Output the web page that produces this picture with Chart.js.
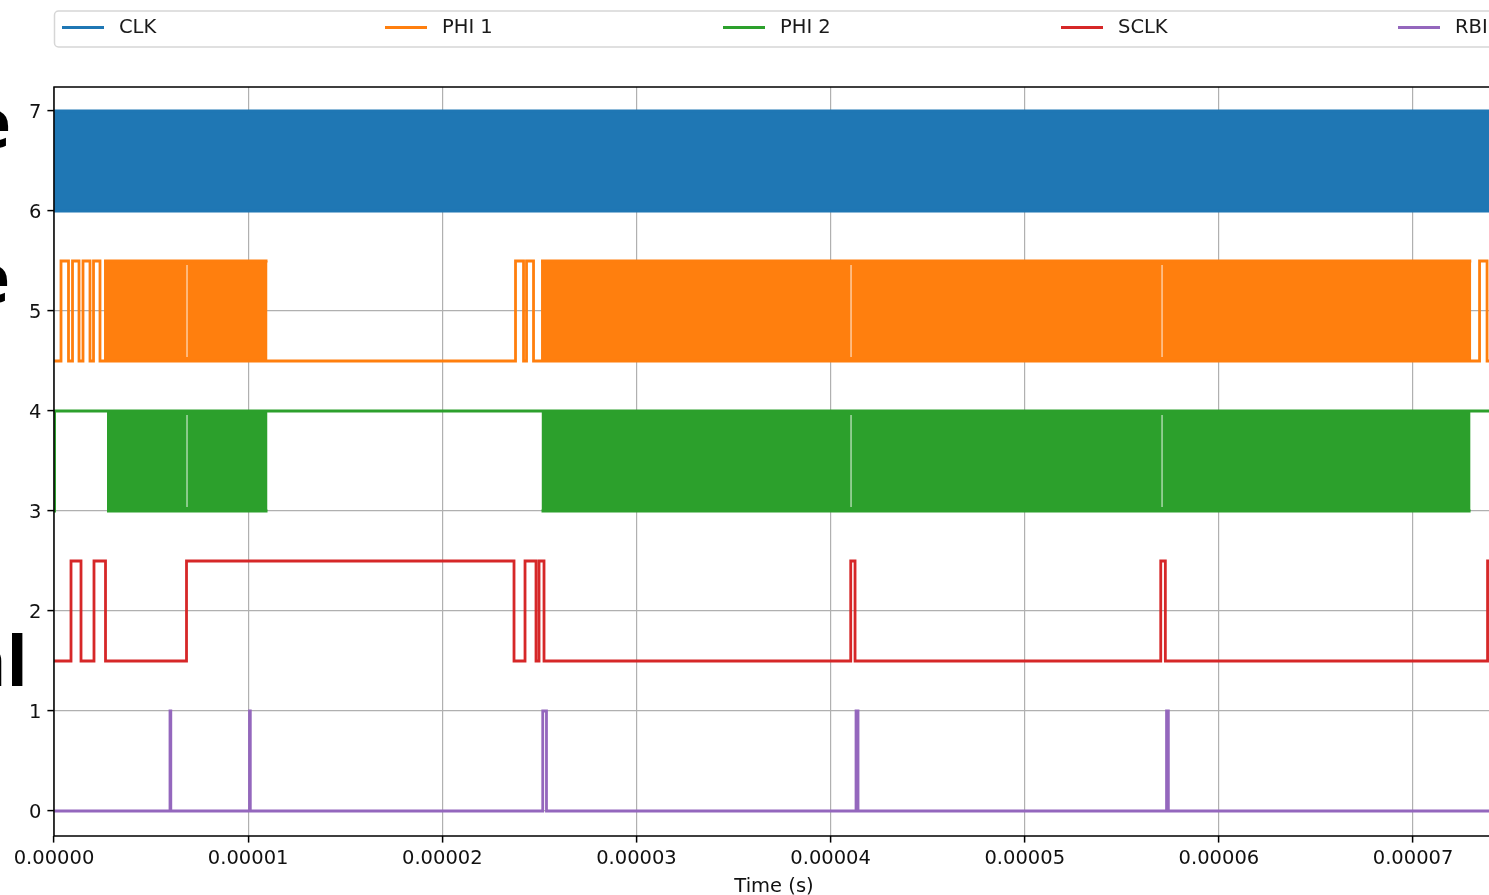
<!DOCTYPE html>
<html><head><meta charset="utf-8">
<script src="https://cdn.jsdelivr.net/npm/chart.js@4"></script>
<style>
html,body{margin:0;padding:0;background:#fff;overflow:hidden;width:1489px;height:895px;}
#wrap{position:relative;width:1489px;height:895px;overflow:hidden;background:#fff;}
canvas{position:absolute;left:0;top:0;}
.frag{position:absolute;font-family:'Open Sans';font-weight:700;font-size:70px;color:#000;text-align:right;white-space:nowrap;line-height:1;}
</style></head>
<body><div id="wrap"><canvas id="c" width="1500" height="895" style="width:1500px;height:895px"></canvas>
<div class="frag" style="left:-300px;width:311px;top:86px;">e</div>
<div class="frag" style="left:-300px;width:310px;top:241px;">e</div>
<div class="frag" style="left:-300px;width:328px;top:624px;">al</div>
</div>
<script>
// ---- data (times in microseconds) ----
const X_MAX_US = 74.17;
const xTickValues = [0, 10, 20, 30, 40, 50, 60, 70];
const xTickLabels = ['0.00000','0.00001','0.00002','0.00003','0.00004','0.00005','0.00006','0.00007'];
const yTickValues = [0, 1, 2, 3, 4, 5, 6, 7];
const yTickLabels = ['0','1','2','3','4','5','6','7'];

const seriesNames  = ['CLK', 'PHI 1', 'PHI 2', 'SCLK', 'RBI'];
const seriesColors = ['#1f77b4', '#ff7f0e', '#2ca02c', '#d62728', '#9467bd'];
const seriesLow    = [6, 4.5, 3, 1.5, 0];
const seriesHigh   = [7, 5.5, 4, 2.5, 1];

// CLK: toggles too fast to resolve -> one dense band over the whole record
const clkStart = 6;
const clkEdges = [];
const clkBursts = [[0, 74.17]];
const clkGaps = [];

// PHI 1
const phi1Start = 4.5;
const phi1Edges = [0.361, 0.747, 0.953, 1.288, 1.494, 1.854, 2.035, 2.369,
                   23.771, 24.184, 24.338, 24.699, 73.426, 73.813];
const phi1Bursts = [[2.576, 10.997], [25.085, 72.998]];
const phi1Gaps = [6.851, 41.053, 57.072];

// PHI 2
const phi2Start = 3;
const phi2Edges = [0.03];
const phi2Bursts = [[2.730, 10.997], [25.111, 72.963]];
const phi2Gaps = [6.851, 41.053, 57.072];

// SCLK
const sclkStart = 1.5;
const sclkEdges = [0.876, 1.391, 2.060, 2.653, 6.825, 23.694, 24.261, 24.827, 24.982, 25.239,
                   41.037, 41.259, 57.005, 57.242, 73.839];

// RBI
const rbiStart = 0;
const rbiEdges = [5.975, 6.016, 10.070, 10.111, 25.173, 25.366, 41.310, 41.413, 57.304, 57.397];

// ---- build datasets ----
const US = 1e-6;
const LW = 2.8;
const FS = 19.5;
const front = [], main = [], back = [];
function signal(idx, start, edges, bursts, burstAtHigh, gaps) {
  const lo = seriesLow[idx], hi = seriesHigh[idx], col = seriesColors[idx];
  const pts = [{x: 0, y: start}];
  let lvl = start;
  edges.forEach(e => { lvl = (lvl === lo) ? hi : lo; pts.push({x: e * US, y: lvl}); });
  pts.push({x: X_MAX_US * US, y: lvl});
  main.unshift({label: seriesNames[idx], data: pts, borderColor: col, backgroundColor: col,
    borderWidth: LW, stepped: 'before', fill: false, pointRadius: 0});
  bursts.forEach(([s, e]) => {
    const yb = burstAtHigh ? hi : lo, yf = burstAtHigh ? lo : hi;
    back.push({data: [{x: s * US, y: yb}, {x: e * US, y: yb}], borderColor: col, backgroundColor: col,
      borderWidth: LW, fill: {value: yf}, pointRadius: 0});
  });
  gaps.forEach(g => {
    front.push({data: [{x: g * US, y: lo + 0.04}, {x: g * US, y: hi - 0.04}],
      borderColor: 'rgba(255,255,255,0.75)', borderWidth: 1.2, pointRadius: 0, fill: false});
  });
}
signal(0, clkStart, clkEdges, clkBursts, true, clkGaps);
signal(1, phi1Start, phi1Edges, phi1Bursts, true, phi1Gaps);
signal(2, phi2Start, phi2Edges, phi2Bursts, false, phi2Gaps);
signal(3, sclkStart, sclkEdges, [], true, []);
signal(4, rbiStart, rbiEdges, [], true, []);

const LEGEND_X = [62, 385, 723, 1061, 1398];
const legendPlugin = {
  id: 'mplLegend',
  afterDraw(chart) {
    const ctx = chart.ctx; ctx.save();
    ctx.beginPath(); ctx.roundRect(54.5, 11, 1440, 36, 4);
    ctx.fillStyle = 'rgba(255,255,255,0.8)'; ctx.fill();
    ctx.strokeStyle = '#d6d6d6'; ctx.lineWidth = 1.5; ctx.stroke();
    ctx.font = FS + 'px "DejaVu Sans"'; ctx.textBaseline = 'middle'; ctx.textAlign = 'left';
    seriesNames.forEach((n, i) => {
      const x0 = LEGEND_X[i];
      ctx.strokeStyle = seriesColors[i]; ctx.lineWidth = LW;
      ctx.beginPath(); ctx.moveTo(x0, 27.5); ctx.lineTo(x0 + 42, 27.5); ctx.stroke();
      ctx.fillStyle = '#1a1a1a'; ctx.fillText(n, x0 + 57, 28);
    });
    ctx.restore();
  }
};
const spinePlugin = {
  id: 'spines',
  afterDatasetsDraw(chart) {
    const {left, right, top, bottom} = chart.chartArea; const ctx = chart.ctx;
    ctx.save(); ctx.strokeStyle = '#000'; ctx.lineWidth = 1.5;
    ctx.beginPath();
    ctx.moveTo(right + 2, top); ctx.lineTo(left, top); ctx.lineTo(left, bottom); ctx.lineTo(right + 2, bottom);
    ctx.stroke(); ctx.restore();
  }
};

Chart.defaults.font.family = "'DejaVu Sans'";
new Chart(document.getElementById('c'), {
  type: 'line',
  data: {datasets: [...front, ...main, ...back]},
  options: {
    responsive: false, animation: false, events: [],
    layout: {padding: {top: 87, right: 6, bottom: 0, left: 0}},
    plugins: {legend: {display: false}, tooltip: {enabled: false}},
    scales: {
      x: {
        type: 'linear', min: 0, max: X_MAX_US * US,
        afterBuildTicks: s => { s.ticks = xTickValues.map(v => ({value: v * US})); },
        afterFit: s => { s.height = 59; },
        grid: {color: '#b0b0b0', lineWidth: 1.2, tickColor: '#000', tickWidth: 1.5, tickLength: 6.6},
        border: {display: false},
        ticks: {autoSkip: false, maxRotation: 0, padding: 5, color: '#111', font: {size: FS},
          callback: (v, i) => xTickLabels[i]},
        title: {display: true, text: 'Time (s)', color: '#111', font: {size: FS, lineHeight: 1},
          padding: {top: 0, bottom: -1.5}}
      },
      y: {
        type: 'linear', min: -0.25, max: 7.24,
        afterBuildTicks: s => { s.ticks = yTickValues.map(v => ({value: v})); },
        afterFit: s => { s.width = 54; },
        grid: {color: '#b0b0b0', lineWidth: 1.2, tickColor: '#000', tickWidth: 1.5, tickLength: 6.6},
        border: {display: false},
        ticks: {padding: 6, labelOffset: 1.5, color: '#111', font: {size: FS}, callback: (v, i) => yTickLabels[i]}
      }
    }
  },
  plugins: [legendPlugin, spinePlugin]
});
</script>
</body></html>
